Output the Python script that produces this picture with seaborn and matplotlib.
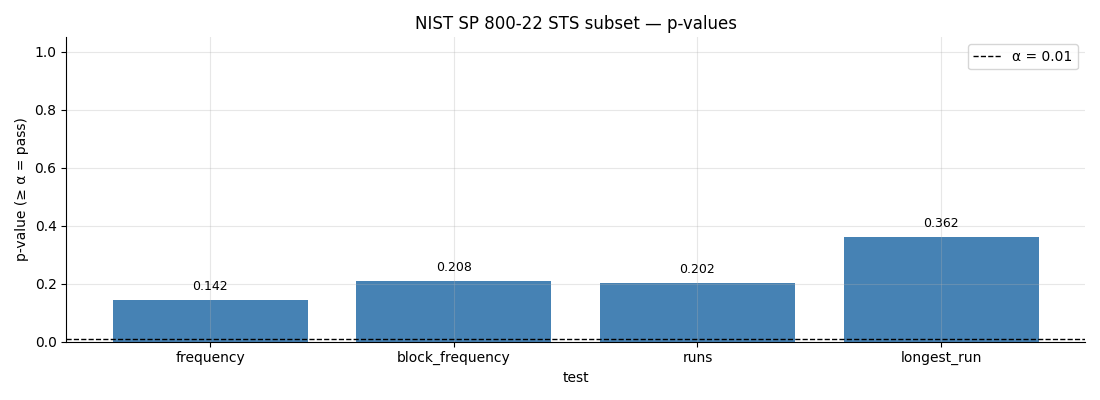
from matplotlib import pyplot as plt
import seaborn as sns
import pandas as pd

tests = ["frequency", "block_frequency", "runs", "longest_run"]
p_values = [0.142, 0.208, 0.202, 0.362]
alpha = 0.01

df = pd.DataFrame({"test": tests, "p": p_values})

fig, ax = plt.subplots(figsize=(11, 4), dpi=100)
sns.barplot(data=df, x="test", y="p", color="steelblue", saturation=1,
            width=0.8, ax=ax)
ax.bar_label(ax.containers[0], fmt="%.3f", padding=5, fontsize=9)

ax.axhline(alpha, color="black", linestyle="--", linewidth=1,
           label=f"α = {alpha}")
ax.set_ylim(0, 1.05)
ax.set_xlim(-0.59, len(tests) - 0.41)
ax.grid(True, alpha=0.3)
ax.spines["top"].set_visible(False)
ax.spines["right"].set_visible(False)
ax.set_xlabel("test")
ax.set_ylabel("p-value (≥ α = pass)")
ax.set_title("NIST SP 800-22 STS subset — p-values")
ax.legend(loc="upper right")

fig.tight_layout()
fig.savefig("out.png")
